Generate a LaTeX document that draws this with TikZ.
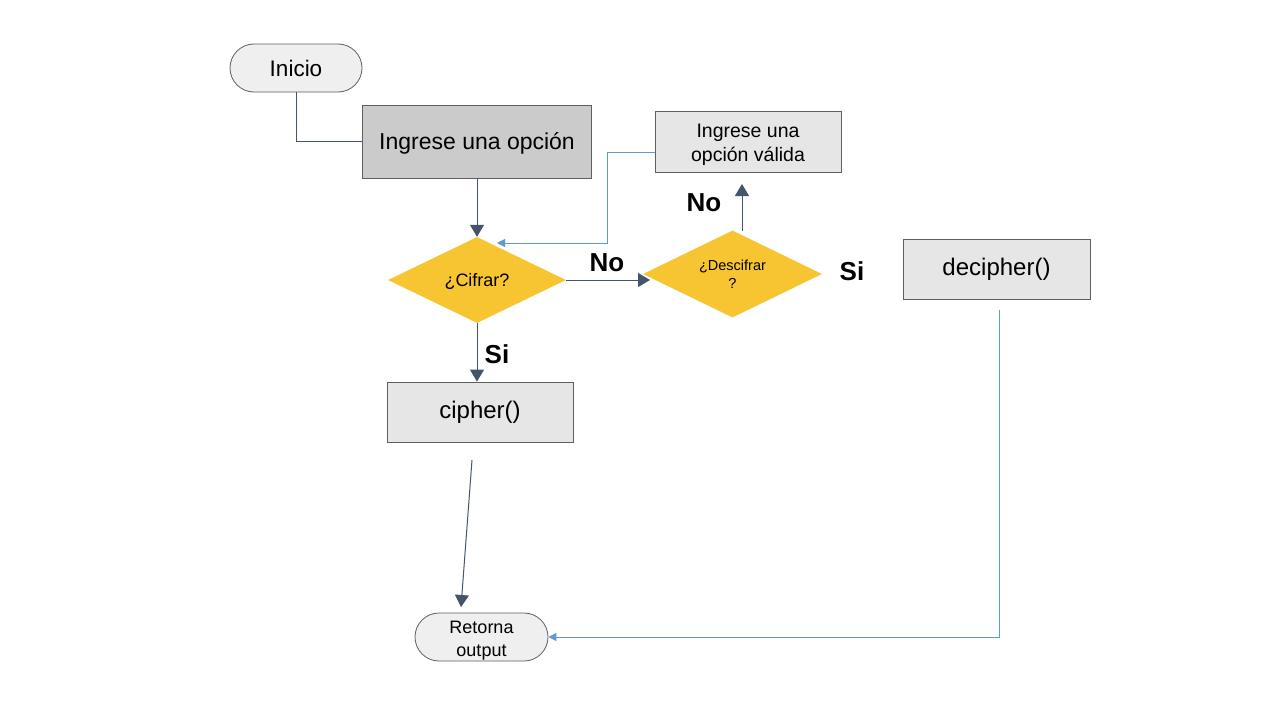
\documentclass[tikz,border=0pt]{standalone}
\usepackage{fontspec}
\setmainfont{Liberation Sans}
\usetikzlibrary{shapes.geometric,arrows.meta}
\definecolor{lineDark}{HTML}{44546A}
\definecolor{lineBlue}{HTML}{5B9BD5}
\definecolor{boxFill}{HTML}{E7E6E6}
\definecolor{boxDark}{HTML}{CBCBCB}
\definecolor{boxEdge}{HTML}{5F5F5F}
\definecolor{termFill}{HTML}{EFEFEF}
\definecolor{yel}{HTML}{F7C531}
\tikzset{
  termbox/.style={draw=boxEdge,fill=termFill,rounded corners=24pt,line width=0.8pt,inner sep=0pt,align=center},
  procbox/.style={draw=boxEdge,fill=boxFill,line width=0.8pt,inner sep=0pt,align=center},
  decbox/.style={diamond,fill=yel,inner sep=0pt,aspect=2.07,align=center},
  darkarrow/.style={draw=lineDark,line width=1pt,-{Triangle[width=14pt,length=12pt]}},
  darkline/.style={draw=lineDark,line width=1pt},
  bluearrow/.style={draw=lineBlue,line width=1pt,-{Triangle[width=8pt,length=8pt]}},
  lbl/.style={font=\bfseries\fontsize{26}{30}\selectfont,inner sep=0pt}
}
\begin{document}
\begin{tikzpicture}[x=1pt,y=-1pt]
\useasboundingbox[fill=white] (0,0) rectangle (1280,720);
% nodes
\node[termbox,minimum width=132pt,minimum height=48pt,font=\fontsize{22.5}{26}\selectfont] (inicio) at (296,68) {Inicio};
\node[procbox,fill=boxDark,minimum width=229pt,minimum height=73pt,font=\fontsize{23}{27}\selectfont] (ingrese) at (477,141.5) {\rule{0pt}{20pt}Ingrese una opción};
\node[procbox,minimum width=186pt,minimum height=61pt,font=\fontsize{19.5}{24}\selectfont] (valida) at (748,141.5) {\rule{0pt}{20pt}Ingrese una\\opción válida};
\node[decbox,minimum width=178pt,minimum height=86pt,font=\fontsize{18}{21}\selectfont] (cifrar) at (477,280) {\rule{0pt}{17pt}¿Cifrar?};
\node[decbox,minimum width=179pt,minimum height=87pt,font=\fontsize{14.5}{18}\selectfont] (descifrar) at (732.5,274) {¿Descifrar\\?};
\node[procbox,minimum width=187pt,minimum height=60pt,font=\fontsize{24}{28}\selectfont] (decipher) at (996.5,269.5) {decipher()};
\node[procbox,minimum width=186pt,minimum height=60pt,font=\fontsize{24}{28}\selectfont] (cipher) at (480,412) {cipher()};
\node[termbox,minimum width=133pt,minimum height=48pt,font=\fontsize{18}{23}\selectfont] (retorna) at (481.5,637) {\rule{0pt}{19pt}Retorna\\output};
% labels
\node[lbl] (noA) at (607,263) {No};
\node[lbl] (noB) at (704,203) {No};
\node[lbl] (siA) at (852,271) {Si};
\node[lbl] (siB) at (497,354) {Si};
% coordinates
\coordinate (dtip) at (650,280);
\coordinate (upA) at (742,231);
\coordinate (upB) at (742,184);
\coordinate (bk1) at (607,152);
\coordinate (bk2) at (607,243);
\coordinate (bk3) at (497,243);
\coordinate (cA) at (472,460);
\coordinate (cB) at (461,607);
\coordinate (dA) at (999.5,310);
\coordinate (dB) at (999.5,637);
% connectors
\draw[darkline] (inicio.south) |- (ingrese.west);
\draw[darkarrow] (ingrese.south) -- (cifrar.north);
\draw[darkarrow] (cifrar.east) -- (dtip);
\draw[darkarrow] (upA) -- (upB);
\draw[bluearrow] (valida.west |- bk1) -- (bk1) -- (bk2) -- (bk3);
\draw[darkarrow] (cifrar.south) -- (cifrar.south |- cipher.north);
\draw[darkarrow] (cA) -- (cB);
\draw[bluearrow] (dA) -- (dB) -- (retorna.east);
\end{tikzpicture}
\end{document}
